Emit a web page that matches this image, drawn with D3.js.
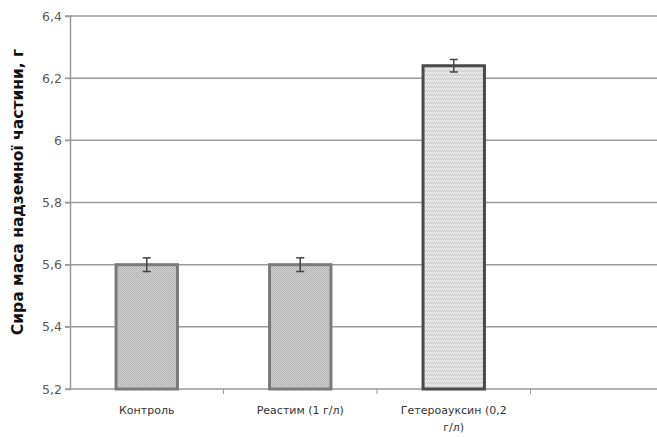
<!DOCTYPE html>
<html>
<head>
<meta charset="utf-8">
<script src="https://cdn.jsdelivr.net/npm/d3@7/dist/d3.min.js"></script>
<style>
  body { margin: 0; background: #fff; }
  svg { display: block; font-family: "DejaVu Sans", sans-serif; }
</style>
</head>
<body>
<svg id="chart" width="657" height="437"></svg>
<script>
// data
var categories = ['Контроль', 'Реастим (1 г/л)', 'Гетероауксин (0,2 г/л)', ''];
var labelLines = [['Контроль'], ['Реастим (1 г/л)'], ['Гетероауксин (0,2', 'г/л)'], []];
var values = [5.6, 5.6, 6.24];
var errors = [0.022, 0.022, 0.02];
var yTicks = [5.2, 5.4, 5.6, 5.8, 6, 6.2, 6.4];
var yTitle = 'Сира маса надземної частини, г';

var f = { width: 657, height: 437, left: 70, top: 16, bottom: 389, right: 684 };

var svg = d3.select('#chart');

var defs = svg.append('defs');

// fine stipple for the first two bars
var p1 = defs.append('pattern')
	.attr('id', 'dots')
	.attr('width', 2).attr('height', 2)
	.attr('patternUnits', 'userSpaceOnUse');
p1.append('rect').attr('width', 2).attr('height', 2).attr('fill', '#cfcfcf');
p1.append('rect').attr('x', 0).attr('y', 0).attr('width', 1).attr('height', 1).attr('fill', '#b2b2b2');
p1.append('rect').attr('x', 1).attr('y', 1).attr('width', 1).attr('height', 1).attr('fill', '#b8b8b8');

// light horizontal-stripe pattern for the third bar
var p2 = defs.append('pattern')
	.attr('id', 'stripes')
	.attr('width', 2).attr('height', 4)
	.attr('patternUnits', 'userSpaceOnUse');
p2.append('rect').attr('width', 2).attr('height', 4).attr('fill', '#e4e4e4');
p2.append('rect').attr('y', 2).attr('width', 1).attr('height', 1).attr('fill', '#c4c4c4');
p2.append('rect').attr('x', 1).attr('y', 3).attr('width', 1).attr('height', 1).attr('fill', '#cccccc');

var x = d3.scaleBand()
	.domain(categories.map(function(d, i) { return i; }))
	.range([f.left, f.right])
	.paddingInner(0)
	.paddingOuter(0);

var y = d3.scaleLinear()
	.domain([5.2, 6.4])
	.range([f.bottom, f.top]);

// gridlines
svg.append('g')
	.selectAll('line')
	.data(yTicks)
	.enter().append('line')
	.attr('x1', f.left - 5)
	.attr('x2', f.width)
	.attr('y1', function(d) { return y(d); })
	.attr('y2', function(d) { return y(d); })
	.attr('stroke', '#9a9a9a')
	.attr('stroke-width', 1.5);

// y axis
var yAxis = d3.axisLeft(y)
	.tickValues(yTicks)
	.tickSize(5)
	.tickFormat(function(d) { return d3.format('.1~f')(d).replace('.', ','); });

var gy = svg.append('g')
	.attr('transform', 'translate(' + f.left + ',0)')
	.call(yAxis);
gy.select('.domain').attr('stroke', '#9a9a9a').attr('stroke-width', 1.5);
gy.selectAll('.tick line').attr('stroke', '#9a9a9a');
gy.selectAll('.tick text')
	.attr('x', -8)
	.attr('fill', '#5a5a5a')
	.style('font-size', '12.5px')
	.style('font-family', '"DejaVu Sans", sans-serif');

// x category ticks
svg.append('g')
	.selectAll('line')
	.data(categories.map(function(d, i) { return i; }))
	.enter().append('line')
	.attr('x1', function(d) { return x(d) + x.bandwidth(); })
	.attr('x2', function(d) { return x(d) + x.bandwidth(); })
	.attr('y1', f.bottom)
	.attr('y2', f.bottom + 5)
	.attr('stroke', '#9a9a9a');

// bars
var barW = x.bandwidth() * 0.4;
svg.append('g')
	.selectAll('rect')
	.data(values)
	.enter().append('rect')
	.attr('x', function(d, i) { return x(i) + (x.bandwidth() - barW) / 2; })
	.attr('y', function(d) { return y(d); })
	.attr('width', barW)
	.attr('height', function(d) { return y(5.2) - y(d); })
	.attr('fill', function(d, i) { return i < 2 ? 'url(#dots)' : 'url(#stripes)'; })
	.attr('stroke', function(d, i) { return i < 2 ? '#7a7a7a' : '#4a4a4a'; })
	.attr('stroke-width', 3);

// error bars
var eb = svg.append('g')
	.selectAll('g')
	.data(values)
	.enter().append('g')
	.attr('stroke', '#444')
	.attr('stroke-width', 1.5);
eb.append('line')
	.attr('x1', function(d, i) { return x(i) + x.bandwidth() / 2; })
	.attr('x2', function(d, i) { return x(i) + x.bandwidth() / 2; })
	.attr('y1', function(d, i) { return y(d + errors[i]); })
	.attr('y2', function(d, i) { return y(d - errors[i]); });
eb.selectAll('.cap')
	.data(function(d, i) { return [[i, d + errors[i]], [i, d - errors[i]]]; })
	.enter().append('line')
	.attr('x1', function(d) { return x(d[0]) + x.bandwidth() / 2 - 4; })
	.attr('x2', function(d) { return x(d[0]) + x.bandwidth() / 2 + 4; })
	.attr('y1', function(d) { return y(d[1]); })
	.attr('y2', function(d) { return y(d[1]); });

// x labels
var xl = svg.append('g')
	.selectAll('text')
	.data(labelLines)
	.enter().append('text')
	.attr('text-anchor', 'middle')
	.attr('fill', '#333')
	.style('font-size', '11px')
	.attr('transform', function(d, i) { return 'translate(' + (x(i) + x.bandwidth() / 2) + ',' + 414 + ')'; });
xl.selectAll('tspan')
	.data(function(d) { return d; })
	.enter().append('tspan')
	.attr('x', 0)
	.attr('dy', function(d, i) { return i === 0 ? 0 : 17; })
	.text(function(d) { return d; });

// y title
svg.append('text')
	.attr('transform', 'translate(23,' + 192 + ') rotate(-90)')
	.attr('text-anchor', 'middle')
	.attr('fill', '#111')
	.style('font-size', '15.5px')
	.style('font-weight', 'bold')
	.text(yTitle);
</script>
</body>
</html>
